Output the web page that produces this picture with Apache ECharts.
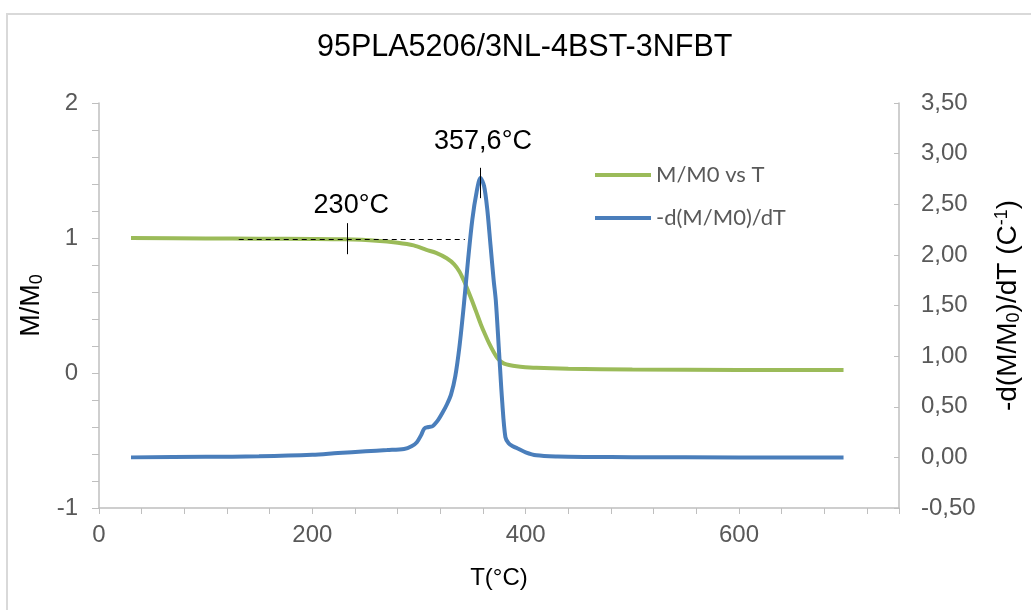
<!DOCTYPE html>
<html>
<head>
<meta charset="utf-8">
<script src="https://cdn.jsdelivr.net/npm/echarts@6/dist/echarts.min.js"></script>
<style>
  html, body { margin: 0; padding: 0; background: #ffffff; }
  #chart { width: 1031px; height: 610px; }
</style>
</head>
<body>
<div id="chart"></div>
<script>
// mass ratio curve (left axis)
let tempMass = [30, 100, 150, 200, 230, 260, 280, 295, 307, 316, 326, 333, 338, 342, 346, 350, 354, 358, 362, 366, 370, 374, 378, 382, 388, 395, 410, 440, 500, 600, 698];
let massRatio = [1.0, 0.997, 0.995, 0.993, 0.99, 0.98, 0.965, 0.945, 0.912, 0.89, 0.85, 0.805, 0.75, 0.685, 0.61, 0.53, 0.445, 0.36, 0.285, 0.215, 0.155, 0.105, 0.078, 0.064, 0.054, 0.047, 0.038, 0.031, 0.026, 0.023, 0.022];

// derivative curve (right axis)
let tempDeriv = [30, 100, 150, 200, 224, 250, 270, 286, 293, 298, 302, 305, 309, 313, 318, 322, 326, 330, 334, 338, 342, 346, 350, 354, 357.6, 361, 364, 367, 370, 372, 375, 378, 381, 384, 388, 392, 400, 410, 430, 460, 500, 600, 698];
let derivValue = [0.0, 0.005, 0.01, 0.025, 0.043, 0.06, 0.072, 0.083, 0.11, 0.15, 0.22, 0.285, 0.3, 0.31, 0.37, 0.44, 0.52, 0.62, 0.8, 1.1, 1.5, 1.95, 2.35, 2.62, 2.76, 2.68, 2.45, 2.1, 1.75, 1.55, 1.05, 0.55, 0.2, 0.14, 0.11, 0.09, 0.05, 0.02, 0.008, 0.004, 0.002, 0.0, 0.0];

let xTicks = [0, 200, 400, 600];
let seriesNames = ["M/M0 vs T", "-d(M/M0)/dT"];
let color = ["#9bbb59", "#4a7ebb"];

// annotations
let onsetT = 233;
let onsetLine = [131, 343, 0.993];
let peakT = 357.6;

let grey = "#595959";
let axisGrey = "#bfbfbf";
let font = "Liberation Sans";

let chart = echarts.init(document.getElementById("chart"));

let pairs = (xs, ys) => xs.map((x, i) => [x, ys[i]]);

let option = {
  animation: false,
  textStyle: { fontFamily: font },
  title: {
    text: "95PLA5206/3NL-4BST-3NFBT",
    left: 317,
    top: 32,
    padding: 0,
    textStyle: { fontSize: 30.5, fontWeight: "normal", color: "#000000", fontFamily: font },
  },
  graphic: [
    {
      type: "rect",
      shape: { x: 7, y: 14, width: 1040, height: 620 },
      style: { fill: "none", stroke: "#d9d9d9", lineWidth: 2 },
      silent: true,
    },
  ],
  legend: {
    data: seriesNames,
    orient: "vertical",
    left: 590,
    top: 159,
    itemWidth: 56,
    itemHeight: 4,
    itemGap: 21,
    icon: "rect",
    textStyle: { fontFamily: "Lato", fontSize: 22, color: grey },
  },
  grid: { left: 99, right: 123, top: 103, bottom: 102 },
  xAxis: {
    type: "value",
    min: 0,
    max: 750,
    interval: 200,
    name: "T(°C)",
    nameLocation: "middle",
    nameGap: 58,
    nameTextStyle: { fontSize: 24, color: "#000000" },
    axisLine: { show: true, onZero: false, lineStyle: { color: axisGrey, width: 1.5 } },
    axisTick: { show: true, length: 6, lineStyle: { color: axisGrey } },
    minorTick: { show: true, splitNumber: 5, length: 6, lineStyle: { color: axisGrey } },
    splitLine: { show: false },
    axisLabel: {
      fontSize: 24,
      color: grey,
      margin: 15,
      showMaxLabel: false,
      formatter: (v) => (xTicks.indexOf(v) >= 0 ? String(v) : ""),
    },
  },
  yAxis: [
    {
      type: "value",
      min: -1,
      max: 2,
      interval: 1,
      position: "left",
      name: "{a|M/M}{s|0}",
      nameLocation: "middle",
      nameRotate: 90,
      nameGap: 51,
      nameTextStyle: {
        rich: {
          a: { fontSize: 27, lineHeight: 28, color: "#000000", fontFamily: font },
          s: { fontSize: 18, lineHeight: 10, verticalAlign: "bottom", color: "#000000", fontFamily: font },
        },
      },
      axisLine: { show: true, onZero: false, lineStyle: { color: axisGrey, width: 1.5 } },
      axisTick: { show: true, length: 7, lineStyle: { color: axisGrey } },
      minorTick: { show: true, splitNumber: 5, length: 7, lineStyle: { color: axisGrey } },
      splitLine: { show: false },
      axisLabel: { fontSize: 24, color: grey, margin: 21 },
    },
    {
      type: "value",
      min: -0.5,
      max: 3.5,
      interval: 0.5,
      position: "right",
      name: "{a|-d(M/M}{s|0}{a|)/dT (C}{p|-1}{a|)}",
      nameLocation: "middle",
      nameRotate: 90,
      nameGap: 94,
      nameTextStyle: {
        rich: {
          a: { fontSize: 28, lineHeight: 30, color: "#000000", fontFamily: font },
          s: { fontSize: 18, lineHeight: 10, verticalAlign: "bottom", color: "#000000", fontFamily: font },
          p: { fontSize: 18, lineHeight: 15, verticalAlign: "top", color: "#000000", fontFamily: font },
        },
      },
      axisLine: { show: true, onZero: false, lineStyle: { color: axisGrey, width: 1.5 } },
      axisTick: { show: true, inside: true, length: 5, lineStyle: { color: axisGrey } },
      splitLine: { show: false },
      axisLabel: {
        fontSize: 24,
        color: grey,
        margin: 22,
        formatter: (v) => v.toFixed(2).replace(".", ","),
      },
    },
  ],
  series: [
    {
      name: seriesNames[0],
      type: "line",
      yAxisIndex: 0,
      data: pairs(tempMass, massRatio),
      smooth: 0.3,
      showSymbol: false,
      color: color[0],
      lineStyle: { color: color[0], width: 4 },
      z: 3,
      markLine: {
        silent: true,
        symbol: ["none", "none"],
        label: { show: false },
        lineStyle: { color: "#000000", width: 1, type: "solid" },
        data: [
          [
            { coord: [onsetLine[0], onsetLine[2]], lineStyle: { type: [5, 4], color: "#000000", width: 1 } },
            { coord: [onsetLine[1], onsetLine[2]] },
          ],
          [{ coord: [onsetT, 1.11] }, { coord: [onsetT, 0.88] }],
        ],
      },
      markPoint: {
        silent: true,
        symbol: "rect",
        symbolSize: 1,
        itemStyle: { color: "rgba(0,0,0,0)" },
        label: { show: true, position: "inside", color: "#000000", fontSize: 27, fontFamily: font },
        data: [{ coord: [236.5, 1.244], label: { formatter: "230°C" } }],
      },
    },
    {
      name: seriesNames[1],
      type: "line",
      yAxisIndex: 1,
      data: pairs(tempDeriv, derivValue),
      smooth: 0.3,
      showSymbol: false,
      color: color[1],
      lineStyle: { color: color[1], width: 4 },
      z: 4,
      markLine: {
        silent: true,
        symbol: ["none", "none"],
        label: { show: false },
        lineStyle: { color: "#000000", width: 1, type: "solid" },
        data: [[{ coord: [peakT, 2.86] }, { coord: [peakT, 2.56] }]],
      },
      markPoint: {
        silent: true,
        symbol: "rect",
        symbolSize: 1,
        itemStyle: { color: "rgba(0,0,0,0)" },
        label: { show: true, position: "inside", color: "#000000", fontSize: 27, fontFamily: font },
        data: [{ coord: [360, 3.115], label: { formatter: "357,6°C" } }],
      },
    },
  ],
};

chart.setOption(option);
</script>
</body>
</html>
